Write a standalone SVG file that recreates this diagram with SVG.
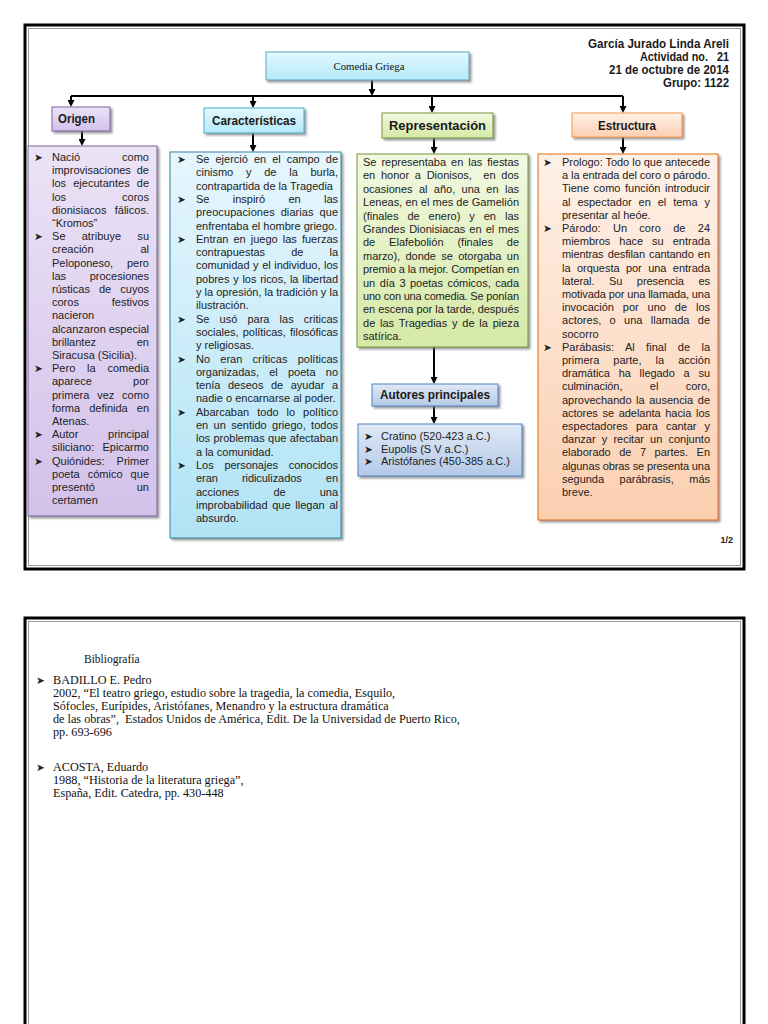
<svg xmlns="http://www.w3.org/2000/svg" width="768" height="1024" viewBox="0 0 768 1024">
<style>
.t{font-family:"Liberation Sans",Arial,sans-serif;font-size:11px;fill:#222}
.e{text-anchor:end}
.bu{font-family:"DejaVu Sans",sans-serif;font-size:10.5px;fill:#222}
.h{font-family:"Liberation Sans Narrow","Liberation Sans",Arial,sans-serif;font-weight:bold;font-size:12px;fill:#1a1a1a}
.sr{font-family:"Liberation Serif","Times New Roman",serif;font-size:12.2px;fill:#111}
.conn{stroke:#000;stroke-width:2;fill:none}
</style>
<defs>
<marker id="ar" markerUnits="userSpaceOnUse" markerWidth="7" markerHeight="7" refX="0" refY="3.5" orient="auto"><path d="M0,0 L7,3.5 L0,7 z" fill="#000"/></marker>
<filter id="sh" x="-10%" y="-10%" width="125%" height="125%"><feDropShadow dx="2" dy="2" stdDeviation="0.8" flood-color="#6f6f6f" flood-opacity="0.7"/></filter>
<linearGradient id="gCyan" x1="0" y1="0" x2="0" y2="1"><stop offset="0" stop-color="#e3f8fe"/><stop offset="1" stop-color="#b4e9f8"/></linearGradient>
<linearGradient id="gPur" x1="0" y1="0" x2="0" y2="1"><stop offset="0" stop-color="#ebe3f6"/><stop offset="1" stop-color="#d3c1ea"/></linearGradient>
<linearGradient id="gBlue" x1="0" y1="0" x2="0" y2="1"><stop offset="0" stop-color="#e6f6fd"/><stop offset="1" stop-color="#b1e3f5"/></linearGradient>
<linearGradient id="gGreen" x1="0" y1="0" x2="0" y2="1"><stop offset="0" stop-color="#f2f9e2"/><stop offset="1" stop-color="#d5e9a5"/></linearGradient>
<linearGradient id="gNavy" x1="0" y1="0" x2="0" y2="1"><stop offset="0" stop-color="#e0e9f6"/><stop offset="1" stop-color="#b4c9e8"/></linearGradient>
<linearGradient id="gPeach" x1="0" y1="0" x2="0" y2="1"><stop offset="0" stop-color="#fef1e8"/><stop offset="1" stop-color="#fbcfb0"/></linearGradient>
</defs>
<rect width="768" height="1024" fill="#fff"/>

<g id="page1">
<rect x="25" y="25" width="719" height="544" fill="none" stroke="#000" stroke-width="3"/>
<rect x="28.5" y="28.5" width="712" height="537" fill="none" stroke="#9a9a9a" stroke-width="1"/>
</g>
<g id="page2">
<rect x="25" y="618" width="719" height="420" fill="none" stroke="#000" stroke-width="3"/>
<rect x="28.5" y="621.5" width="712" height="420" fill="none" stroke="#9a9a9a" stroke-width="1"/>
</g>

<g id="author">
<text class="h" x="588" y="48" textLength="141" lengthAdjust="spacingAndGlyphs">García Jurado Linda Areli</text>
<text class="h" x="640" y="61" textLength="89" lengthAdjust="spacingAndGlyphs" xml:space="preserve">Actividad no.   21</text>
<text class="h" x="609" y="74" textLength="120" lengthAdjust="spacingAndGlyphs">21 de octubre de 2014</text>
<text class="h" x="663" y="87" textLength="66" lengthAdjust="spacingAndGlyphs">Grupo: 1122</text>
</g>

<g id="connectors">
<path class="conn" d="M372 80 V89" marker-end="url(#ar)"/>
<path class="conn" d="M71 96 H623"/>
<path class="conn" d="M71 96 V100" marker-end="url(#ar)"/>
<path class="conn" d="M253 96 V101" marker-end="url(#ar)"/>
<path class="conn" d="M432 96 V106" marker-end="url(#ar)"/>
<path class="conn" d="M623 96 V106" marker-end="url(#ar)"/>
<path class="conn" d="M82 131 V139" marker-end="url(#ar)"/>
<path class="conn" d="M253 133 V145" marker-end="url(#ar)"/>
<path class="conn" d="M434 138 V147" marker-end="url(#ar)"/>
<path class="conn" d="M434 347 V377" marker-end="url(#ar)"/>
<path class="conn" d="M434 406 V417" marker-end="url(#ar)"/>
<path class="conn" d="M623 137 V147" marker-end="url(#ar)"/>
</g>

<g id="comedia">
<rect x="266" y="52" width="203" height="28" fill="url(#gCyan)" stroke="#5ea7bd" stroke-width="1" filter="url(#sh)"/>
<text class="sr" x="369" y="70" text-anchor="middle" textLength="71" lengthAdjust="spacingAndGlyphs" style="font-size:11px">Comedia Griega</text>
</g>

<g id="origen">
<rect x="52" y="107" width="58" height="24" fill="url(#gPur)" stroke="#8064a2" stroke-width="1" filter="url(#sh)"/>
<text class="h" x="58" y="123" textLength="37" lengthAdjust="spacingAndGlyphs">Origen</text>
</g>
<g id="caracteristicas">
<rect x="204" y="108" width="100" height="25" fill="url(#gCyan)" stroke="#4bacc6" stroke-width="1" filter="url(#sh)"/>
<text class="h" x="212" y="125" textLength="84" lengthAdjust="spacingAndGlyphs">Características</text>
</g>
<g id="representacion">
<rect x="382" y="113" width="111" height="25" fill="url(#gGreen)" stroke="#77933c" stroke-width="1" filter="url(#sh)"/>
<text class="h" x="389" y="130" textLength="97" lengthAdjust="spacingAndGlyphs">Representación</text>
</g>
<g id="estructura">
<rect x="572" y="113" width="110" height="24" fill="url(#gPeach)" stroke="#f79646" stroke-width="1" filter="url(#sh)"/>
<text class="h" x="598" y="130" textLength="58" lengthAdjust="spacingAndGlyphs">Estructura</text>
</g>

<g id="origen-list">
<rect x="28" y="146" width="129" height="370" fill="url(#gPur)" stroke="#8064a2" stroke-width="1" filter="url(#sh)"/>
<text class="bu" x="34" y="161">➤</text>
<text class="t" x="52" y="161">Nació</text><text class="t e" x="149" y="161">como</text>
<text class="t" x="52" y="174.2">improvisaciones</text><text class="t e" x="149" y="174.2">de</text>
<text class="t" x="52" y="187.4" textLength="97" lengthAdjust="spacing" style="word-spacing:4px">los ejecutantes de</text>
<text class="t" x="52" y="200.6">los</text><text class="t e" x="149" y="200.6">coros</text>
<text class="t" x="52" y="213.8">dionisiacos</text><text class="t e" x="149" y="213.8">fálicos.</text>
<text class="t" x="52" y="227">“Kromos”</text>
<text class="bu" x="34" y="240.2">➤</text>
<text class="t" x="52" y="240.2" textLength="97" lengthAdjust="spacing" style="word-spacing:13px">Se atribuye su</text>
<text class="t" x="52" y="253.4">creación</text><text class="t e" x="149" y="253.4">al</text>
<text class="t" x="52" y="266.6">Peloponeso,</text><text class="t e" x="149" y="266.6">pero</text>
<text class="t" x="52" y="279.8">las</text><text class="t e" x="149" y="279.8">procesiones</text>
<text class="t" x="52" y="293" textLength="97" lengthAdjust="spacing" style="word-spacing:6px">rústicas de cuyos</text>
<text class="t" x="52" y="306.2">coros</text><text class="t e" x="149" y="306.2">festivos</text>
<text class="t" x="52" y="319.4">nacieron</text>
<text class="t" x="52" y="332.6">alcanzaron</text><text class="t e" x="149" y="332.6">especial</text>
<text class="t" x="52" y="345.8">brillantez</text><text class="t e" x="149" y="345.8">en</text>
<text class="t" x="52" y="359">Siracusa (Sicilia).</text>
<text class="bu" x="34" y="372.2">➤</text>
<text class="t" x="52" y="372.2" textLength="97" lengthAdjust="spacing" style="word-spacing:8.7px">Pero la comedia</text>
<text class="t" x="52" y="385.4">aparece</text><text class="t e" x="149" y="385.4">por</text>
<text class="t" x="52" y="398.6" textLength="97" lengthAdjust="spacing" style="word-spacing:4.8px">primera vez como</text>
<text class="t" x="52" y="411.8" textLength="97" lengthAdjust="spacing" style="word-spacing:6px">forma definida en</text>
<text class="t" x="52" y="425">Atenas.</text>
<text class="bu" x="34" y="438.2">➤</text>
<text class="t" x="52" y="438.2">Autor</text><text class="t e" x="149" y="438.2">principal</text>
<text class="t" x="52" y="451.4">siliciano:</text><text class="t e" x="149" y="451.4">Epicarmo</text>
<text class="bu" x="34" y="464.6">➤</text>
<text class="t" x="52" y="464.6">Quiónides:</text><text class="t e" x="149" y="464.6">Primer</text>
<text class="t" x="52" y="477.8" textLength="97" lengthAdjust="spacing" style="word-spacing:5px">poeta cómico que</text>
<text class="t" x="52" y="491">presentó</text><text class="t e" x="149" y="491">un</text>
<text class="t" x="52" y="504.2">certamen</text>
</g>

<g id="caracteristicas-list">
<rect x="170" y="152" width="171" height="386" fill="url(#gBlue)" stroke="#31849b" stroke-width="1" filter="url(#sh)"/>
<text class="bu" x="177" y="163">➤</text>
<text class="t" x="196" y="163" textLength="142" lengthAdjust="spacing" style="word-spacing:3px">Se ejerció en el campo de</text>
<text class="t" x="196" y="176.3" textLength="142" lengthAdjust="spacing" style="word-spacing:9.7px">cinismo y de la burla,</text>
<text class="t" x="196" y="189.6">contrapartida de la Tragedia</text>
<text class="bu" x="177" y="202.9">➤</text>
<text class="t" x="196" y="202.9" textLength="142" lengthAdjust="spacing" style="word-spacing:20.2px">Se inspiró en las</text>
<text class="t" x="196" y="216.2" textLength="142" lengthAdjust="spacing" style="word-spacing:2.7px">preocupaciones diarias que</text>
<text class="t" x="196" y="229.5">enfrentaba el hombre griego.</text>
<text class="bu" x="177" y="242.8">➤</text>
<text class="t" x="196" y="242.8" textLength="142" lengthAdjust="spacing" style="word-spacing:2px">Entran en juego las fuerzas</text>
<text class="t" x="196" y="256.1" textLength="142" lengthAdjust="spacing" style="word-spacing:23px">contrapuestas de la</text>
<text class="t" x="196" y="269.4" textLength="142" lengthAdjust="spacing" style="word-spacing:0.6px">comunidad y el individuo, los</text>
<text class="t" x="196" y="282.7" textLength="142" lengthAdjust="spacing" style="word-spacing:0.8px">pobres y los ricos, la libertad</text>
<text class="t" x="196" y="296" textLength="142" lengthAdjust="spacing">y la opresión, la tradición y la</text>
<text class="t" x="196" y="309.3">ilustración.</text>
<text class="bu" x="177" y="322.6">➤</text>
<text class="t" x="196" y="322.6" textLength="142" lengthAdjust="spacing" style="word-spacing:7.1px">Se usó para las criticas</text>
<text class="t" x="196" y="335.9" textLength="142" lengthAdjust="spacing" style="word-spacing:1.2px">sociales, políticas, filosóficas</text>
<text class="t" x="196" y="349.2">y religiosas.</text>
<text class="bu" x="177" y="362.5">➤</text>
<text class="t" x="196" y="362.5" textLength="142" lengthAdjust="spacing" style="word-spacing:7.2px">No eran críticas políticas</text>
<text class="t" x="196" y="375.8" textLength="142" lengthAdjust="spacing" style="word-spacing:7.2px">organizadas, el poeta no</text>
<text class="t" x="196" y="389.1" textLength="142" lengthAdjust="spacing" style="word-spacing:4.5px">tenía deseos de ayudar a</text>
<text class="t" x="196" y="402.4">nadie o encarnarse al poder.</text>
<text class="bu" x="177" y="415.7">➤</text>
<text class="t" x="196" y="415.7" textLength="142" lengthAdjust="spacing" style="word-spacing:4.9px">Abarcaban todo lo político</text>
<text class="t" x="196" y="429" textLength="142" lengthAdjust="spacing" style="word-spacing:2.3px">en un sentido griego, todos</text>
<text class="t" x="196" y="442.3" textLength="142" lengthAdjust="spacing" style="word-spacing:0.3px">los problemas que afectaban</text>
<text class="t" x="196" y="455.6">a la comunidad.</text>
<text class="bu" x="177" y="468.9">➤</text>
<text class="t" x="196" y="468.9" textLength="142" lengthAdjust="spacing" style="word-spacing:7.7px">Los personajes conocidos</text>
<text class="t" x="196" y="482.2" textLength="142" lengthAdjust="spacing" style="word-spacing:21.1px">eran ridiculizados en</text>
<text class="t" x="196" y="495.5" textLength="142" lengthAdjust="spacing" style="word-spacing:31px">acciones de una</text>
<text class="t" x="196" y="508.8" textLength="142" lengthAdjust="spacing" style="word-spacing:1.7px">improbabilidad que llegan al</text>
<text class="t" x="196" y="522.1">absurdo.</text>
</g>

<g id="representacion-text">
<rect x="357" y="154" width="171" height="193" fill="url(#gGreen)" stroke="#77933c" stroke-width="1" filter="url(#sh)"/>
<text class="t" x="363" y="166" textLength="156" lengthAdjust="spacing" style="word-spacing:2px">Se representaba en las fiestas</text>
<text class="t" x="363" y="179.4" textLength="156" lengthAdjust="spacing" style="word-spacing:2.7px" xml:space="preserve">en honor a Dionisos,  en dos</text>
<text class="t" x="363" y="192.8" textLength="156" lengthAdjust="spacing" style="word-spacing:3.3px">ocasiones al año, una en las</text>
<text class="t" x="363" y="206.2" textLength="156" lengthAdjust="spacing">Leneas, en el mes de Gamelión</text>
<text class="t" x="363" y="219.6" textLength="156" lengthAdjust="spacing" style="word-spacing:5.9px">(finales de enero) y en las</text>
<text class="t" x="363" y="233" textLength="156" lengthAdjust="spacing" style="word-spacing:1px">Grandes Dionisiacas en el mes</text>
<text class="t" x="363" y="246.4" textLength="156" lengthAdjust="spacing" style="word-spacing:10.8px">de Elafebolión (finales de</text>
<text class="t" x="363" y="259.8" textLength="156" lengthAdjust="spacing" style="word-spacing:2.3px">marzo), donde se otorgaba un</text>
<text class="t" x="363" y="273.2" textLength="156" lengthAdjust="spacing">premio a la mejor. Competían en</text>
<text class="t" x="363" y="286.6" textLength="156" lengthAdjust="spacing" style="word-spacing:1.4px">un día 3 poetas cómicos, cada</text>
<text class="t" x="363" y="300" textLength="156" lengthAdjust="spacing">uno con una comedia. Se ponían</text>
<text class="t" x="363" y="313.4" textLength="156" lengthAdjust="spacing">en escena por la tarde, después</text>
<text class="t" x="363" y="326.8" textLength="156" lengthAdjust="spacing" style="word-spacing:1.7px">de las Tragedias y de la pieza</text>
<text class="t" x="363" y="340.2">satírica.</text>
</g>

<g id="autores">
<rect x="372" y="384" width="126" height="22" fill="url(#gNavy)" stroke="#4f81bd" stroke-width="1" filter="url(#sh)"/>
<text class="h" x="380" y="399" textLength="110" lengthAdjust="spacingAndGlyphs">Autores principales</text>
</g>
<g id="autores-list">
<rect x="358" y="424" width="164" height="52" fill="url(#gNavy)" stroke="#4f81bd" stroke-width="1" filter="url(#sh)"/>
<text class="bu" x="364" y="440">➤</text><text class="t" x="381" y="440">Cratino (520-423 a.C.)</text>
<text class="bu" x="364" y="452.5">➤</text><text class="t" x="381" y="452.5">Eupolis (S V a.C.)</text>
<text class="bu" x="364" y="465">➤</text><text class="t" x="381" y="465">Aristófanes (450-385 a.C.)</text>
</g>

<g id="estructura-list">
<rect x="538" y="154" width="180" height="366" fill="url(#gPeach)" stroke="#e46c0a" stroke-width="1" filter="url(#sh)"/>
<text class="bu" x="543" y="166">➤</text>
<text class="t" x="562" y="166" textLength="148" lengthAdjust="spacing">Prologo: Todo lo que antecede</text>
<text class="t" x="562" y="179.2" textLength="148" lengthAdjust="spacing">a la entrada del coro o párodo.</text>
<text class="t" x="562" y="192.4" textLength="148" lengthAdjust="spacing" style="word-spacing:1.6px">Tiene como función introducir</text>
<text class="t" x="562" y="205.6" textLength="148" lengthAdjust="spacing" style="word-spacing:3.9px">al espectador en el tema y</text>
<text class="t" x="562" y="218.8">presentar al heóe.</text>
<text class="bu" x="543" y="232">➤</text>
<text class="t" x="562" y="232" textLength="148" lengthAdjust="spacing" style="word-spacing:9.3px">Párodo: Un coro de 24</text>
<text class="t" x="562" y="245.2" textLength="148" lengthAdjust="spacing" style="word-spacing:5.9px">miembros hace su entrada</text>
<text class="t" x="562" y="258.4" textLength="148" lengthAdjust="spacing" style="word-spacing:1.2px">mientras desfilan cantando en</text>
<text class="t" x="562" y="271.6" textLength="148" lengthAdjust="spacing" style="word-spacing:3.4px">la orquesta por una entrada</text>
<text class="t" x="562" y="284.8" textLength="148" lengthAdjust="spacing" style="word-spacing:11.6px">lateral. Su presencia es</text>
<text class="t" x="562" y="298" textLength="148" lengthAdjust="spacing">motivada por una llamada, una</text>
<text class="t" x="562" y="311.2" textLength="148" lengthAdjust="spacing" style="word-spacing:5.8px">invocación por uno de los</text>
<text class="t" x="562" y="324.4" textLength="148" lengthAdjust="spacing" style="word-spacing:5.3px">actores, o una llamada de</text>
<text class="t" x="562" y="337.6">socorro</text>
<text class="bu" x="543" y="350.8">➤</text>
<text class="t" x="562" y="350.8" textLength="148" lengthAdjust="spacing" style="word-spacing:8.3px">Parábasis: Al final de la</text>
<text class="t" x="562" y="364" textLength="148" lengthAdjust="spacing" style="word-spacing:11px">primera parte, la acción</text>
<text class="t" x="562" y="377.2" textLength="148" lengthAdjust="spacing" style="word-spacing:5.8px">dramática ha llegado a su</text>
<text class="t" x="562" y="390.4" textLength="148" lengthAdjust="spacing" style="word-spacing:24.5px">culminación, el coro,</text>
<text class="t" x="562" y="403.6" textLength="148" lengthAdjust="spacing" style="word-spacing:1.6px">aprovechando la ausencia de</text>
<text class="t" x="562" y="416.8" textLength="148" lengthAdjust="spacing" style="word-spacing:1.7px">actores se adelanta hacia los</text>
<text class="t" x="562" y="430" textLength="148" lengthAdjust="spacing" style="word-spacing:5.1px">espectadores para cantar y</text>
<text class="t" x="562" y="443.2" textLength="148" lengthAdjust="spacing" style="word-spacing:3.1px">danzar y recitar un conjunto</text>
<text class="t" x="562" y="456.4" textLength="148" lengthAdjust="spacing" style="word-spacing:5.5px">elaborado de 7 partes. En</text>
<text class="t" x="562" y="469.6" textLength="148" lengthAdjust="spacing">algunas obras se presenta una</text>
<text class="t" x="562" y="482.8" textLength="148" lengthAdjust="spacing" style="word-spacing:12.6px">segunda parábrasis, más</text>
<text class="t" x="562" y="496">breve.</text>
</g>

<g id="pagenum">
<text x="733" y="543" text-anchor="end" style="font-family:'Liberation Sans',Arial,sans-serif;font-size:9px;font-weight:bold;fill:#222">1/2</text>
</g>

<g id="bibliografia">
<text class="sr" x="84" y="663" style="font-size:11.5px">Bibliografía</text>
<text class="bu" x="36" y="684">➤</text>
<text class="sr" x="53" y="684">BADILLO E. Pedro</text>
<text class="sr" x="53" y="697">2002, “El teatro griego, estudio sobre la tragedia, la comedia, Esquilo,</text>
<text class="sr" x="53" y="710">Sófocles, Eurípides, Aristófanes, Menandro y la estructura dramática</text>
<text class="sr" x="53" y="723" xml:space="preserve">de las obras”,  Estados Unidos de América, Edit. De la Universidad de Puerto Rico,</text>
<text class="sr" x="53" y="736">pp. 693-696</text>
<text class="bu" x="36" y="771">➤</text>
<text class="sr" x="53" y="771">ACOSTA, Eduardo</text>
<text class="sr" x="53" y="784">1988, “Historia de la literatura griega”,</text>
<text class="sr" x="53" y="797">España, Edit. Catedra, pp. 430-448</text>
</g>
</svg>
